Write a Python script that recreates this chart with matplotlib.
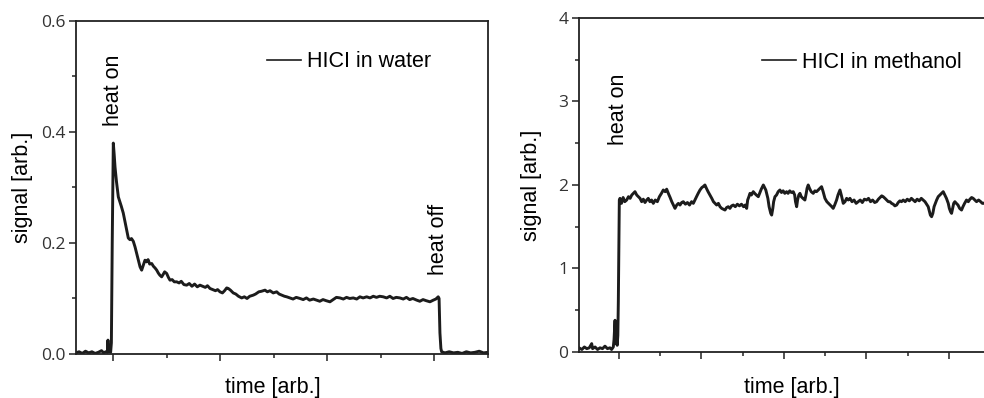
import matplotlib
matplotlib.use("Agg")
import matplotlib.pyplot as plt
from matplotlib.ticker import MultipleLocator, FormatStrFormatter, NullFormatter

# --- data (time in arbitrary units) ---
water_time = [
    65, 68, 71, 74, 77, 80, 83, 86, 89, 91, 93, 94.5, 95, 95.5, 96.5, 97.5, 98.2, 99,
    100, 100.8, 101.6, 103, 104.7, 106, 107.5, 109.3, 111, 112.5, 114, 115.5, 117, 118.7,
    120.3, 122, 123.5, 125, 126.5, 128, 129.6, 131, 132.5, 134, 135.9, 137.5, 139, 140.6,
    142, 143.5, 145.2, 146.5, 148, 149.9, 151.5, 153, 155, 157, 159.3, 161.5, 163.5, 166,
    168.6, 171, 173.5, 176, 178.5, 181, 183.5, 186, 188, 190.4, 193, 195.5, 197.5, 199.7,
    202, 204, 206, 207.5, 209.5, 212.1, 214.5, 217, 220, 222.5, 225, 227.5, 230.8, 233,
    236, 238.5, 241.8, 244, 246.5, 249.5, 252.7, 255, 257.5, 260, 262.1, 265, 268, 271,
    274.5, 277.5, 280.5, 283.5, 287, 290.1, 293, 296, 299, 302.5, 305.5, 308.5, 311.9,
    315, 318, 321, 324.3, 327.5, 330.5, 333.5, 336.8, 340, 343, 346, 349, 352.3, 355.5,
    358.5, 361.5, 364.5, 367.9, 371, 374, 377, 380, 383.6, 386.5, 389.5, 392.5, 396,
    399.1, 401.5, 403.7, 404.5, 405.3, 406.2, 406.9, 410, 414, 418, 422, 426, 430, 434,
    438, 442, 446, 450.2,
]
water_signal = [
    0.002, 0.004, 0.001, 0.005, 0.002, 0.004, 0.001, 0.003, 0.006, 0.002, 0.004, 0.003,
    0.025, 0.004, 0.008, 0.003, 0.020, 0.200,
    0.380, 0.360, 0.337, 0.310, 0.283, 0.275, 0.266, 0.254, 0.238, 0.223, 0.209, 0.206,
    0.208, 0.203, 0.193, 0.180, 0.168, 0.157, 0.151, 0.160, 0.169, 0.166, 0.170, 0.162,
    0.163, 0.158, 0.155, 0.151, 0.146, 0.142, 0.139, 0.143, 0.148, 0.145, 0.138, 0.133,
    0.134, 0.130, 0.130, 0.128, 0.131, 0.125, 0.124, 0.127, 0.122, 0.126, 0.121, 0.124,
    0.122, 0.120, 0.123, 0.118, 0.116, 0.114, 0.116, 0.112, 0.110, 0.114, 0.119, 0.118,
    0.115, 0.110, 0.108, 0.104, 0.101, 0.103, 0.100, 0.104, 0.106, 0.108, 0.112, 0.113,
    0.115, 0.112, 0.114, 0.110, 0.112, 0.108, 0.106, 0.104, 0.103, 0.101, 0.099, 0.102,
    0.100, 0.098, 0.101, 0.097, 0.099, 0.097, 0.095, 0.098, 0.096, 0.094, 0.098, 0.102,
    0.101, 0.099, 0.102, 0.100, 0.101, 0.099, 0.103, 0.101, 0.103, 0.101, 0.104, 0.102,
    0.104, 0.103, 0.101, 0.104, 0.100, 0.102, 0.101, 0.099, 0.102, 0.098, 0.100, 0.097,
    0.095, 0.098, 0.096, 0.094, 0.097, 0.099, 0.103, 0.100, 0.038, 0.010, 0.004, 0.002,
    0.004, 0.002, 0.003, 0.001, 0.004, 0.002, 0.003, 0.005, 0.002, 0.003,
]

methanol_time = [
    51.5, 55, 58, 61, 64, 66.9, 68, 71, 74, 77, 80, 83, 86, 89, 91, 93.1, 94, 95.2, 96,
    97, 97.8, 98.6, 99.2, 100.4, 101.2, 103, 105, 107, 109.3, 111.5, 113.5, 115.5, 117.5,
    119.4, 121.5, 123.5, 125.5, 127.5, 129.5, 131.5, 133.6, 135.5, 137.5, 139.5, 141.6,
    144, 146.5, 149, 151.5, 153.7, 156, 157.8, 159.8, 162, 164, 166, 167.9, 170, 172, 174,
    176, 178, 180.5, 183, 185.5, 188, 190.1, 192, 194, 196, 198.2, 200.5, 202, 204.2, 206,
    208, 210.3, 212.5, 214.5, 216.5, 218.4, 220.5, 222.5, 224.5, 226.5, 228.5, 230.5,
    232.5, 234.5, 236.5, 238.6, 241, 243.5, 246, 248.5, 251, 253, 254.8, 256, 257.5,
    258.8, 260.5, 262.8, 264.5, 266.5, 268.9, 270.5, 272.5, 275, 276.5, 278, 279, 280.5,
    282, 283, 284, 285.1, 286.5, 287.5, 289.1, 291, 293, 295.1, 297, 299, 301, 303.2, 305,
    307, 309, 311.3, 313, 314, 315.4, 316.5, 318, 319.4, 321, 323, 325.4, 327, 328, 329.4,
    331, 333, 335.5, 337.5, 339.5, 341.5, 343.5, 345.6, 347.5, 349.7, 352, 354, 356, 358,
    359.7, 361.5, 363.8, 365.5, 367.9, 369.5, 371.9, 374, 376, 378, 380, 382.5, 385,
    387.5, 390, 392.5, 395, 397.5, 400.2, 402.5, 405, 407.5, 410, 412.3, 414.5, 416.5,
    418.5, 420.3, 422.5, 424.5, 426.5, 428.5, 430.5, 432.5, 434.5, 436.6, 438.5, 440.5,
    442.5, 444.6, 447, 449.5, 452, 454.5, 456.7, 459, 461.5, 464, 466.5, 468.8, 471, 473,
    474.9, 476.5, 477.5, 479, 480.5, 482, 483.5, 485.1, 487, 489, 491, 493.1, 495, 497,
    499.2, 500.5, 502, 503.2, 504.5, 505.8, 507.2, 509, 511, 513, 515.3, 517, 519, 521.3,
    523.5, 525.5, 527.5, 529.4, 531.5, 533.5, 536, 538.5, 540.5, 542.4, 545, 548, 551,
]
methanol_signal = [
    0.05, 0.03, 0.06, 0.04, 0.05, 0.10, 0.04, 0.06, 0.03, 0.05, 0.04, 0.07, 0.04, 0.05,
    0.03, 0.06, 0.15, 0.38, 0.10, 0.30, 0.08, 0.20, 0.60, 1.82, 1.84, 1.78, 1.85, 1.80,
    1.82, 1.86, 1.84, 1.88, 1.90, 1.92, 1.88, 1.86, 1.84, 1.80, 1.83, 1.79, 1.82, 1.84,
    1.80, 1.82, 1.78, 1.82, 1.80, 1.86, 1.90, 1.94, 1.92, 1.95, 1.90, 1.85, 1.80, 1.76,
    1.72, 1.76, 1.78, 1.76, 1.79, 1.80, 1.77, 1.79, 1.76, 1.80, 1.78, 1.82, 1.86, 1.90,
    1.94, 1.97, 1.98, 2.00, 1.96, 1.92, 1.88, 1.84, 1.80, 1.78, 1.76, 1.78, 1.74, 1.72,
    1.71, 1.70, 1.73, 1.74, 1.72, 1.75, 1.76, 1.74, 1.77, 1.75, 1.77, 1.74, 1.76, 1.72,
    1.82, 1.86, 1.90, 1.88, 1.92, 1.90, 1.88, 1.86, 1.90, 1.95, 2.00, 1.97, 1.94, 1.90,
    1.84, 1.74, 1.70, 1.66, 1.64, 1.72, 1.80, 1.86, 1.88, 1.92, 1.94, 1.91, 1.93, 1.90,
    1.92, 1.90, 1.93, 1.91, 1.92, 1.88, 1.80, 1.74, 1.82, 1.88, 1.90, 1.86, 1.84, 1.82,
    1.90, 1.96, 2.00, 1.96, 1.92, 1.90, 1.93, 1.92, 1.94, 1.96, 1.98, 1.92, 1.84, 1.80,
    1.78, 1.76, 1.74, 1.72, 1.76, 1.82, 1.88, 1.94, 1.88, 1.78, 1.80, 1.84, 1.82, 1.84,
    1.80, 1.82, 1.78, 1.80, 1.82, 1.79, 1.83, 1.82, 1.84, 1.80, 1.82, 1.79, 1.80, 1.83,
    1.85, 1.87, 1.86, 1.84, 1.82, 1.80, 1.80, 1.78, 1.77, 1.75, 1.76, 1.79, 1.81, 1.80,
    1.82, 1.80, 1.83, 1.81, 1.84, 1.82, 1.80, 1.83, 1.81, 1.84, 1.82, 1.80, 1.77, 1.74,
    1.68, 1.64, 1.62, 1.66, 1.74, 1.78, 1.82, 1.86, 1.88, 1.90, 1.92, 1.88, 1.84, 1.78,
    1.72, 1.68, 1.66, 1.72, 1.78, 1.80, 1.78, 1.76, 1.72, 1.70, 1.74, 1.78, 1.82, 1.80,
    1.83, 1.85, 1.84, 1.82, 1.80, 1.82, 1.80, 1.78, 1.78, 1.80, 1.79, 1.80,
]

water_yticks = [0.0, 0.2, 0.4, 0.6]
methanol_yticks = [0, 1, 2, 3, 4]

line_color = "#1c1c1c"
label_font = "Liberation Sans"
tick_font = "Open Sans"

plt.rcParams["font.family"] = [label_font, "DejaVu Sans"]
plt.rcParams["axes.linewidth"] = 1.3

fig = plt.figure(figsize=(9.84, 3.98), dpi=100)
ax1 = fig.add_axes([0.0772, 0.1106, 0.4187, 0.8367])
ax2 = fig.add_axes([0.5884, 0.1156, 0.4187, 0.8392])


def style_axes(ax, yticks, fmt):
    ax.set_yticks(yticks)
    ax.yaxis.set_major_formatter(FormatStrFormatter(fmt))
    ax.xaxis.set_major_locator(MultipleLocator(100))
    ax.xaxis.set_minor_locator(MultipleLocator(50))
    ax.xaxis.set_major_formatter(NullFormatter())
    ax.tick_params(which="both", direction="out", top=False, right=False, width=1.1,
                   colors="#222222")
    ax.tick_params(which="major", length=5, pad=2.5)
    ax.tick_params(which="minor", length=3)
    for lab in ax.get_yticklabels():
        lab.set_fontfamily(tick_font)
        lab.set_fontsize(12.5)
        lab.set_color("#333333")
    for sp in ax.spines.values():
        sp.set_color("#222222")


# --- left panel: water ---
ax1.plot(water_time, water_signal, color=line_color, lw=2.1)
ax1.set_xlim(65.1, 450.2)
ax1.set_ylim(0, 0.6)
style_axes(ax1, water_yticks, "%.1f")
ax1.yaxis.set_minor_locator(MultipleLocator(0.1))
ax1.set_ylabel("signal [arb.]", fontsize=15.5)
ax1.yaxis.set_label_coords(-0.104, 0.5)
ax1.set_xlabel("time [arb.]", fontsize=15.5)
ax1.xaxis.set_label_coords(0.478, -0.069)
ax1.text(100, 0.41, "heat on", rotation=90, ha="center", va="bottom", fontsize=15.5)
ax1.text(404, 0.142, "heat off", rotation=90, ha="center", va="bottom", fontsize=15.5)
ax1.legend(["HICI in water"], loc="center left", bbox_to_anchor=(0.4636, 0.877),
           frameon=False, fontsize=15.5, handlelength=1.6, handletextpad=0.25,
           borderpad=0, borderaxespad=0)
ax1.get_legend().get_lines()[0].set_linewidth(1.2)

# --- right panel: methanol ---
ax2.plot(methanol_time, methanol_signal, color=line_color, lw=2.1)
ax2.set_xlim(51.5, 551)
ax2.set_ylim(0, 4)
style_axes(ax2, methanol_yticks, "%d")
ax2.yaxis.set_minor_locator(MultipleLocator(0.5))
ax2.set_ylabel("signal [arb.]", fontsize=15.5)
ax2.yaxis.set_label_coords(-0.09, 0.5)
ax2.set_xlabel("time [arb.]", fontsize=15.5)
ax2.xaxis.set_label_coords(0.517, -0.075)
ax2.text(100, 2.48, "heat on", rotation=90, ha="center", va="bottom", fontsize=15.5)
ax2.legend(["HICI in methanol"], loc="center left", bbox_to_anchor=(0.444, 0.868),
           frameon=False, fontsize=15.5, handlelength=1.6, handletextpad=0.25,
           borderpad=0, borderaxespad=0)
ax2.get_legend().get_lines()[0].set_linewidth(1.2)

fig.savefig("out.png", dpi=100)
